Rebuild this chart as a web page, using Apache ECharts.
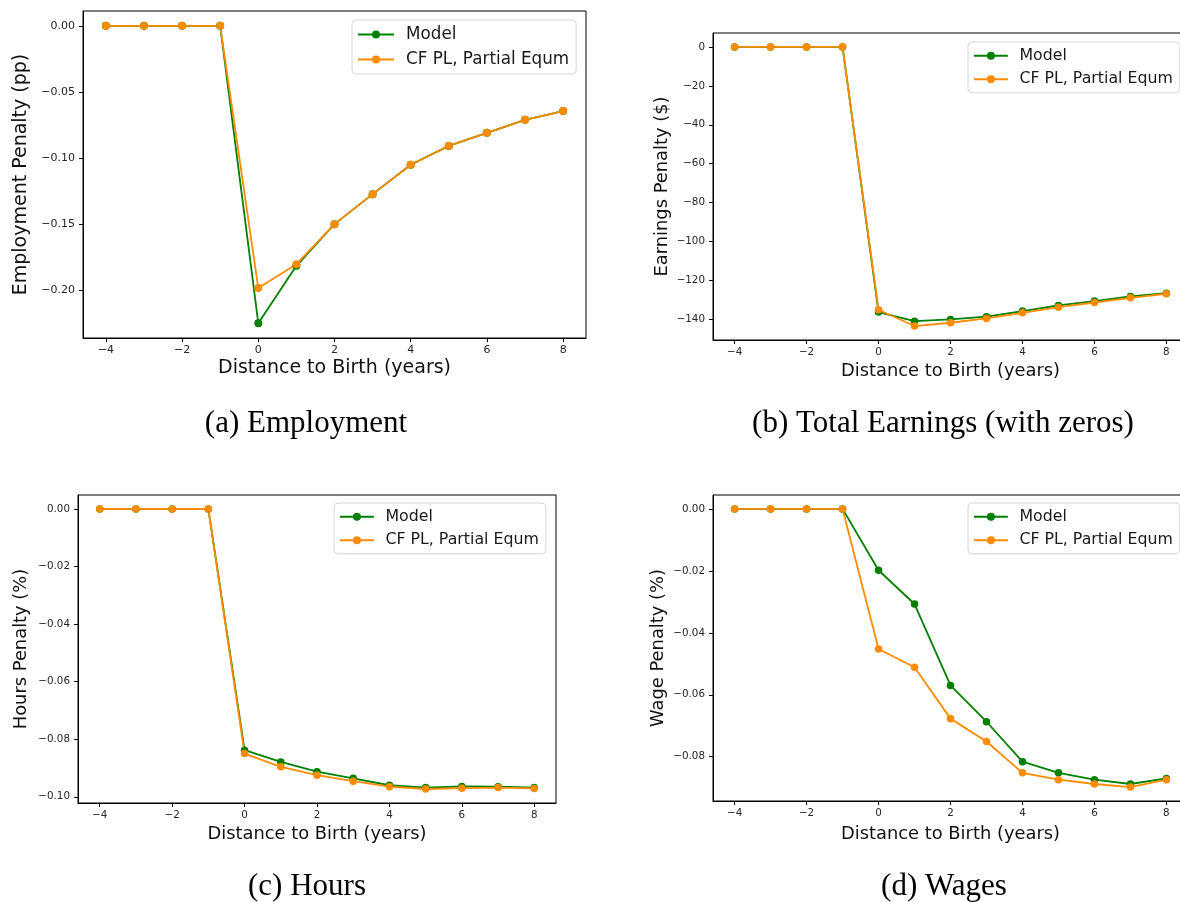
<!DOCTYPE html>
<html>
<head>
<meta charset="utf-8">
<title>Child penalty: model vs counterfactual</title>
<script src="https://cdn.jsdelivr.net/npm/echarts@6/dist/echarts.min.js"></script>
<style>
  html, body { margin: 0; padding: 0; background: #fff; }
  #main { width: 1180px; height: 902px; }
</style>
</head>
<body>
<div id="main"></div>
<script>
// years relative to birth
const distance = [-4, -3, -2, -1, 0, 1, 2, 3, 4, 5, 6, 7, 8];
const xTicks = [-4, -2, 0, 2, 4, 6, 8];

const empModel = [0, 0, 0, 0, -0.2249, -0.1815, -0.1500, -0.1273, -0.1051, -0.0908, -0.0809, -0.0711, -0.0645];
const empCF = [0, 0, 0, 0, -0.1984, -0.1803, -0.1500, -0.1273, -0.1051, -0.0908, -0.0809, -0.0711, -0.0645];
const empTicks = [0, -0.05, -0.10, -0.15, -0.20];

const earnModel = [0, 0, 0, 0, -136.2, -140.9, -140.0, -138.6, -135.7, -132.8, -130.6, -128.2, -126.5];
const earnCF = [0, 0, 0, 0, -135.0, -143.4, -141.7, -139.5, -136.6, -133.7, -131.3, -128.9, -126.8];
const earnTicks = [0, -20, -40, -60, -80, -100, -120, -140];

const hoursModel = [0, 0, 0, 0, -0.0838, -0.0879, -0.0913, -0.0936, -0.0960, -0.0968, -0.0964, -0.0965, -0.0968];
const hoursCF = [0, 0, 0, 0, -0.0850, -0.0896, -0.0925, -0.0946, -0.0965, -0.0973, -0.0970, -0.0968, -0.0971];
const hoursTicks = [0, -0.02, -0.04, -0.06, -0.08, -0.10];

const wageModel = [0, 0, 0, 0, -0.0198, -0.0307, -0.0570, -0.0687, -0.0816, -0.0852, -0.0874, -0.0888, -0.0870];
const wageCF = [0, 0, 0, 0, -0.0452, -0.0511, -0.0677, -0.0751, -0.0852, -0.0874, -0.0888, -0.0898, -0.0874];
const wageTicks = [0, -0.02, -0.04, -0.06, -0.08];

const seriesNames = ['Model', 'CF PL, Partial Equm'];
const colors = ['#008000', '#ff8c00'];

// one entry per subplot
const panels = [
    { model: empModel, cf: empCF, ticks: empTicks, dec: 2, yName: 'Employment Penalty (pp)', caption: '(a) Employment',
      grid: [83, 11, 503, 327], yGap: 52, xGap: 21, s: 1.0, legend: [352, 20], cap: [306, 424] },
    { model: earnModel, cf: earnCF, ticks: earnTicks, dec: 0, yName: 'Earnings Penalty ($)', caption: '(b) Total Earnings (with zeros)',
      grid: [713, 33, 475, 307], yGap: 42, xGap: 22, s: 0.94, legend: [968, 42], cap: [943, 424] },
    { model: hoursModel, cf: hoursCF, ticks: hoursTicks, dec: 2, yName: 'Hours Penalty (%)', caption: '(c) Hours',
      grid: [78, 495, 478, 308], yGap: 48, xGap: 22, s: 0.94, legend: [334, 503], cap: [307, 887] },
    { model: wageModel, cf: wageCF, ticks: wageTicks, dec: 2, yName: 'Wage Penalty (%)', caption: '(d) Wages',
      grid: [713, 495, 475, 306], yGap: 46, xGap: 24, s: 0.94, legend: [968, 503], cap: [944, 887] }
];

function minus(str) {
    return str.replace('-', '\u2212');
}

let myChart = echarts.init(document.getElementById('main'), null, { renderer: 'canvas' });

let grids = [], xAxes = [], yAxes = [], series = [], legends = [], captions = [];
panels.forEach(function (p, i) {
    let all = p.model.concat(p.cf);
    let lo = Math.min.apply(null, all), hi = Math.max.apply(null, all);
    let pad = (hi - lo) * 0.05;
    let xPad = (distance[distance.length - 1] - distance[0]) * 0.05;

    grids.push({
        left: p.grid[0], top: p.grid[1], width: p.grid[2], height: p.grid[3],
        show: true, borderColor: '#000', borderWidth: 1, backgroundColor: 'transparent',
        containLabel: false, outerBoundsMode: 'none'
    });
    xAxes.push({
        type: 'value', gridIndex: i,
        min: distance[0] - xPad, max: distance[distance.length - 1] + xPad,
        name: 'Distance to Birth (years)', nameLocation: 'middle', nameGap: p.xGap,
        nameTextStyle: { fontSize: 19 * p.s, color: '#111', verticalAlign: 'top' },
        axisLine: { show: true, onZero: false, lineStyle: { color: '#000', width: 1 } },
        axisTick: { show: true, length: 4, customValues: xTicks, lineStyle: { color: '#000' } },
        axisLabel: { customValues: xTicks, margin: 7, fontSize: 11 * p.s, color: '#262626',
            formatter: function (v) { return minus(String(v)); } },
        splitLine: { show: false }
    });
    yAxes.push({
        type: 'value', gridIndex: i,
        min: lo - pad, max: hi + pad,
        name: p.yName, nameLocation: 'middle', nameGap: p.yGap, nameRotate: 90,
        nameTextStyle: { fontSize: 19 * p.s, color: '#111' },
        axisLine: { show: true, onZero: false, lineStyle: { color: '#000', width: 1 } },
        axisTick: { show: true, length: 4, customValues: p.ticks, lineStyle: { color: '#000' } },
        axisLabel: { customValues: p.ticks, margin: 8, fontSize: 11 * p.s, color: '#262626',
            formatter: function (v) { return minus(v.toFixed(p.dec)); } },
        splitLine: { show: false }
    });
    [p.model, p.cf].forEach(function (vals, k) {
        series.push({
            name: seriesNames[k], type: 'line', xAxisIndex: i, yAxisIndex: i,
            data: distance.map(function (d, j) { return [d, vals[j]]; }),
            symbol: 'circle', symbolSize: 8 * p.s, showSymbol: true,
            itemStyle: { color: colors[k] },
            lineStyle: { color: colors[k], width: 1.8 },
            emphasis: { disabled: true }
        });
    });
    legends.push({
        orient: 'vertical', left: p.legend[0], top: p.legend[1],
        padding: [6 * p.s, 7, 6 * p.s, 5], itemWidth: 36 * p.s, itemHeight: 10, itemGap: 8 * p.s,
        backgroundColor: 'rgba(255,255,255,0.85)', borderColor: '#d6d6d6', borderWidth: 1, borderRadius: 4,
        selectedMode: false,
        textStyle: { fontSize: 16.8 * p.s, color: '#1a1a1a', padding: [0, 0, 0, 7 * p.s] },
        data: seriesNames
    });
    captions.push({
        type: 'text', x: p.cap[0], y: p.cap[1],
        style: { text: p.caption, fontSize: 31, fontFamily: '"Liberation Serif", serif', fill: '#000',
            align: 'center', verticalAlign: 'middle' }
    });
});

let option = {
    animation: false,
    backgroundColor: '#fff',
    textStyle: { fontFamily: '"DejaVu Sans", sans-serif' },
    grid: grids,
    xAxis: xAxes,
    yAxis: yAxes,
    legend: legends,
    series: series,
    graphic: captions
};
myChart.setOption(option);
</script>
</body>
</html>
